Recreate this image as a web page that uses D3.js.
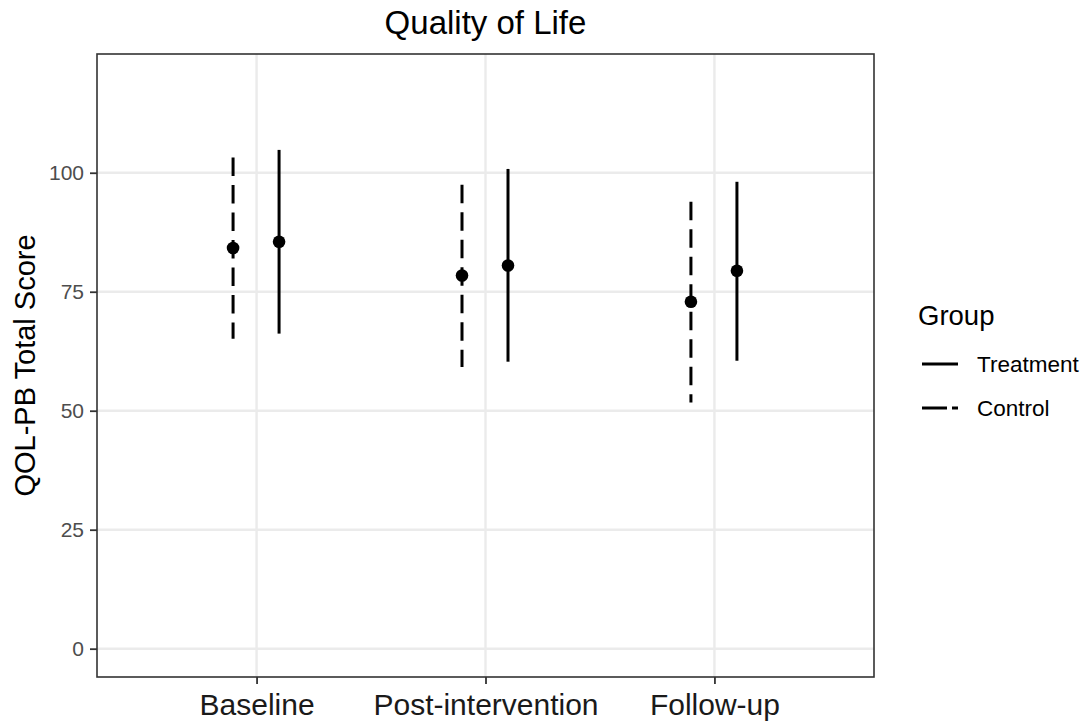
<!DOCTYPE html>
<html>
<head>
<meta charset="utf-8">
<script src="https://cdn.jsdelivr.net/npm/d3@7"></script>
<style>
  html, body { margin: 0; padding: 0; background: #fff; }
  svg { display: block; font-family: "Liberation Sans", Arial, sans-serif; }
</style>
</head>
<body>
<svg id="chart" width="1086" height="724"></svg>
<script>
// Time points and groups
const timepoints = ["Baseline", "Post-intervention", "Follow-up"];
const groups = ["Control", "Treatment"];

// Mean QOL-PB total score and interval bounds per group, per time point
const controlMean  = [84.2, 78.4, 72.9];
const controlLow   = [65.1, 59.2, 51.7];
const controlHigh  = [103.2, 97.5, 93.9];
const treatmentMean = [85.5, 80.5, 79.4];
const treatmentLow  = [66.2, 60.3, 60.5];
const treatmentHigh = [104.8, 100.8, 98.1];

const yTicks = [0, 25, 50, 75, 100];
const legendItems = ["Treatment", "Control"];

const rows = [];
timepoints.forEach((t, i) => {
  rows.push({ time: t, group: "Control", mean: controlMean[i], lo: controlLow[i], hi: controlHigh[i] });
  rows.push({ time: t, group: "Treatment", mean: treatmentMean[i], lo: treatmentLow[i], hi: treatmentHigh[i] });
});

const FONT = "Liberation Sans, Arial, sans-serif";
const svg = d3.select("#chart");
const panel = { left: 97, top: 54, right: 874, bottom: 677 };

const x = d3.scalePoint().domain(timepoints).range([panel.left, panel.right]).padding(0.697);
// dodge offset inside each time point
const dodge = d3.scalePoint().domain(groups).range([-23.5, 22.5]);
const y = d3.scaleLinear().domain([-5.95, 124.95]).range([panel.bottom, panel.top]);

const dashStyle = { Control: "18.5,9", Treatment: null };

// Panel background
svg.append("rect")
  .attr("x", panel.left).attr("y", panel.top)
  .attr("width", panel.right - panel.left).attr("height", panel.bottom - panel.top)
  .attr("fill", "#fff");

// Grid lines
const grid = svg.append("g");
grid.selectAll("line.h").data(yTicks).join("line")
  .attr("x1", panel.left).attr("x2", panel.right)
  .attr("y1", d => y(d)).attr("y2", d => y(d))
  .attr("stroke", "#ebebeb").attr("stroke-width", 2.4);
grid.selectAll("line.v").data(timepoints).join("line")
  .attr("y1", panel.top).attr("y2", panel.bottom)
  .attr("x1", d => x(d)).attr("x2", d => x(d))
  .attr("stroke", "#ebebeb").attr("stroke-width", 2.4);

// Error bars, drawn from the upper bound down
const marks = svg.append("g");
marks.selectAll("line.err").data(rows).join("line")
  .attr("x1", d => x(d.time) + dodge(d.group))
  .attr("x2", d => x(d.time) + dodge(d.group))
  .attr("y1", d => y(d.hi)).attr("y2", d => y(d.lo))
  .attr("stroke", "#000").attr("stroke-width", 3)
  .attr("stroke-dasharray", d => dashStyle[d.group]);

// Mean points
marks.selectAll("circle").data(rows).join("circle")
  .attr("cx", d => x(d.time) + dodge(d.group))
  .attr("cy", d => y(d.mean))
  .attr("r", 6.3).attr("fill", "#000");

// Panel border
svg.append("rect")
  .attr("x", panel.left).attr("y", panel.top)
  .attr("width", panel.right - panel.left).attr("height", panel.bottom - panel.top)
  .attr("fill", "none").attr("stroke", "#333").attr("stroke-width", 1.6);

// Y axis
const yAxis = svg.append("g")
  .attr("transform", `translate(${panel.left},0)`)
  .call(d3.axisLeft(y).tickValues(yTicks).tickSize(7).tickPadding(6));
yAxis.select(".domain").remove();
yAxis.selectAll(".tick line").attr("stroke", "#333").attr("stroke-width", 1.8);
yAxis.selectAll(".tick text").attr("fill", "#4d4d4d")
  .style("font-size", "21px").style("font-family", FONT);

// X axis
const xAxis = svg.append("g")
  .attr("transform", `translate(0,${panel.bottom})`)
  .call(d3.axisBottom(x).tickSize(7).tickPadding(10));
xAxis.select(".domain").remove();
xAxis.selectAll(".tick line").attr("stroke", "#333").attr("stroke-width", 1.8);
xAxis.selectAll(".tick text").attr("fill", "#1a1a1a")
  .style("font-size", "30px").style("font-family", FONT);

// Title
svg.append("text")
  .attr("x", (panel.left + panel.right) / 2).attr("y", 34)
  .attr("text-anchor", "middle").attr("fill", "#000")
  .style("font-size", "33px")
  .text("Quality of Life");

// Y axis title
svg.append("text")
  .attr("transform", `translate(35,${(panel.top + panel.bottom) / 2}) rotate(-90)`)
  .attr("text-anchor", "middle").attr("fill", "#000")
  .style("font-size", "29px")
  .text("QOL-PB Total Score");

// Legend
const legend = svg.append("g").attr("transform", "translate(918,0)");
legend.append("text")
  .attr("x", 0).attr("y", 325)
  .attr("fill", "#000").style("font-size", "27.5px")
  .text("Group");
const legendY = d3.scalePoint().domain(legendItems).range([364, 408]);
const li = legend.selectAll("g.item").data(legendItems).join("g")
  .attr("transform", d => `translate(0,${legendY(d)})`);
li.append("line")
  .attr("x1", 4).attr("x2", 40).attr("y1", 0).attr("y2", 0)
  .attr("stroke", "#000").attr("stroke-width", 3)
  .attr("stroke-dasharray", d => d === "Control" ? "25,5" : null);
li.append("text")
  .attr("x", 59).attr("y", 0).attr("dy", "0.35em")
  .attr("fill", "#000").style("font-size", "22.5px")
  .text(d => d);
</script>
</body>
</html>
